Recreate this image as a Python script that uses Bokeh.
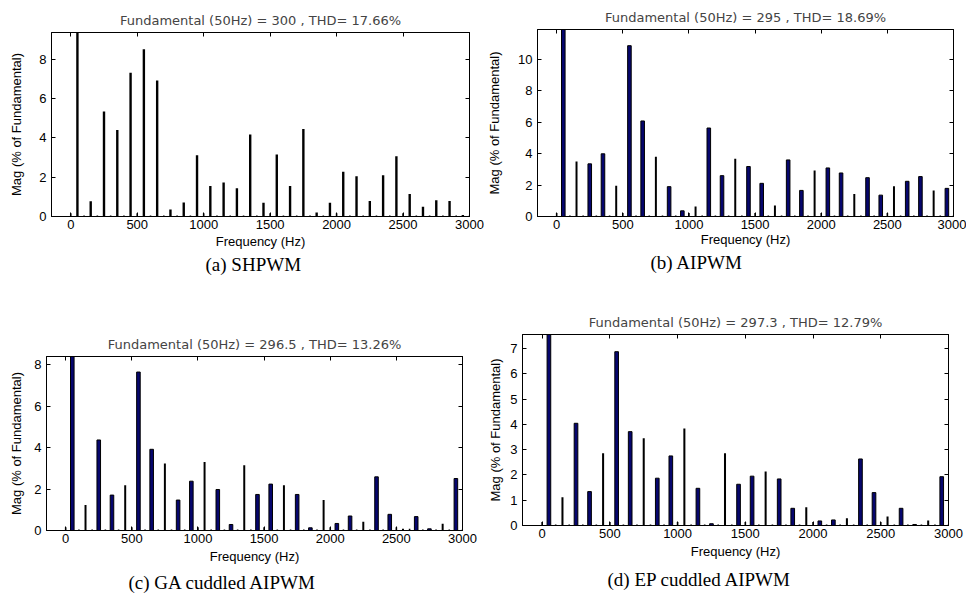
from bokeh.plotting import figure
from bokeh.layouts import row, column
from bokeh.models import Range1d, LinearAxis, FixedTicker, Title
from bokeh.embed import file_html
from bokeh.resources import INLINE

# ---------------- data ----------------
# odd harmonics (Hz) and their magnitudes (% of fundamental)
odd_hz = [50, 150, 250, 350, 450, 550, 650, 750, 850, 950,
          1050, 1150, 1250, 1350, 1450, 1550, 1650, 1750, 1850, 1950,
          2050, 2150, 2250, 2350, 2450, 2550, 2650, 2750, 2850, 2950]
# even harmonics (Hz)
even_hz = [0, 100, 200, 300, 400, 500, 600, 700, 800, 900,
           1000, 1100, 1200, 1300, 1400, 1500, 1600, 1700, 1800, 1900,
           2000, 2100, 2200, 2300, 2400, 2500, 2600, 2700, 2800, 2900, 3000]

a_odd = [100, 0.78, 5.34, 4.40, 7.31, 8.50, 6.91, 0.35, 0.71, 3.11,
         1.55, 1.73, 1.43, 4.17, 0.70, 3.15, 1.55, 4.45, 0.20, 0.70,
         2.27, 2.05, 0.79, 2.10, 3.06, 1.14, 0.50, 0.82, 0.79, 0.08]
a_even = [0.17, 0.05, 0.05, 0.05, 0.05, 0.17, 0.05, 0.05, 0.05, 0.05,
          0.17, 0.05, 0.05, 0.05, 0.05, 0.17, 0.05, 0.05, 0.05, 0.05,
          0.17, 0.05, 0.05, 0.05, 0.05, 0.17, 0.05, 0.05, 0.05, 0.05, 0.05]

b_odd = [100, 3.50, 3.35, 3.99, 1.96, 10.87, 6.08, 3.80, 1.90, 0.36,
         0.64, 5.63, 2.60, 3.67, 3.18, 2.11, 0.70, 3.60, 1.66, 2.92,
         3.09, 2.77, 1.43, 2.47, 1.36, 1.92, 2.24, 2.54, 1.66, 1.79]
b_even = [0.22, 0.06, 0.06, 0.06, 0.06, 0.22, 0.06, 0.06, 0.06, 0.06,
          0.22, 0.06, 0.06, 0.06, 0.06, 0.22, 0.06, 0.06, 0.06, 0.06,
          0.22, 0.06, 0.06, 0.06, 0.06, 0.22, 0.06, 0.06, 0.06, 0.06, 0.06]

c_odd = [100, 1.23, 4.37, 1.71, 2.19, 7.65, 3.92, 3.23, 1.47, 2.38,
         3.31, 1.98, 0.29, 3.15, 1.74, 2.24, 2.19, 1.74, 0.13, 1.47,
         0.34, 0.70, 0.42, 2.59, 0.78, 0.08, 0.67, 0.08, 0.32, 2.51]
c_even = [0.16, 0.05, 0.05, 0.05, 0.05, 0.16, 0.05, 0.05, 0.05, 0.05,
          0.16, 0.05, 0.05, 0.05, 0.05, 0.16, 0.05, 0.05, 0.05, 0.05,
          0.16, 0.05, 0.05, 0.05, 0.05, 0.16, 0.08, 0.05, 0.05, 0.05, 0.05]

d_odd = [100, 1.12, 4.04, 1.34, 2.86, 6.87, 3.71, 3.45, 1.87, 2.75,
         3.83, 1.47, 0.07, 2.86, 1.63, 1.95, 2.13, 1.84, 0.68, 0.72,
         0.18, 0.22, 0.29, 2.63, 1.30, 0.36, 0.68, 0.04, 0.20, 1.93]
d_even = [0.14, 0.04, 0.04, 0.04, 0.04, 0.14, 0.04, 0.04, 0.04, 0.04,
          0.14, 0.04, 0.04, 0.04, 0.04, 0.14, 0.04, 0.04, 0.04, 0.04,
          0.14, 0.04, 0.04, 0.04, 0.04, 0.14, 0.04, 0.04, 0.04, 0.04, 0.04]

titles = ["Fundamental (50Hz) = 300 , THD= 17.66%",
          "Fundamental (50Hz) = 295 , THD= 18.69%",
          "Fundamental (50Hz) = 296.5 , THD= 13.26%",
          "Fundamental (50Hz) = 297.3 , THD= 12.79%"]
captions = ["(a) SHPWM", "(b) AIPWM", "(c) GA cuddled AIPWM", "(d) EP cuddled AIPWM"]

x_ticks = [0, 500, 1000, 1500, 2000, 2500, 3000]
y_ticks_a = [0, 2, 4, 6, 8]
y_ticks_b = [0, 2, 4, 6, 8, 10]
y_ticks_c = [0, 2, 4, 6, 8]
y_ticks_d = [0, 1, 2, 3, 4, 5, 6, 7]
y_max = [9.35, 11.9, 8.4, 7.55]

# ---------------- styling ----------------
SANS = "Liberation Sans"
TITLE_FONT = "DejaVu Sans"
SERIF = "Liberation Serif"
NAVY = "#06066e"


def side_axis(ticks):
    return LinearAxis(ticker=FixedTicker(ticks=ticks), major_tick_in=4, major_tick_out=0,
                      minor_tick_line_color=None, major_label_text_font_size="1px",
                      major_label_overrides={t: "" for t in ticks},
                      major_label_standoff=0, axis_line_color="black",
                      major_tick_line_color="black")


def make_panel(title, caption, odd_vals, even_vals, ymax, yticks, navy, geom):
    ml, mt, fw, fh, mr, mb, cap_off, cap_stand, ylab_stand, xlab_stand = geom
    p = figure(frame_width=fw, frame_height=fh,
               min_border_left=ml, min_border_right=mr,
               min_border_top=mt, min_border_bottom=mb,
               x_range=Range1d(-145, 3000), y_range=Range1d(0, ymax),
               output_backend="svg", toolbar_location=None, title=title)
    p.frame_align = False
    p.title.align = "center"
    p.title.text_font = TITLE_FONT
    p.title.text_font_size = "13px"
    p.title.text_font_style = "normal"
    p.title.standoff = 9
    p.grid.visible = False
    p.outline_line_color = "black"
    p.outline_line_width = 1
    p.background_fill_color = "white"
    p.border_fill_color = "white"

    p.xaxis.ticker = FixedTicker(ticks=x_ticks)
    p.yaxis.ticker = FixedTicker(ticks=yticks)
    p.xaxis.axis_label = "Frequency (Hz)"
    p.yaxis.axis_label = "Mag (% of Fundamental)"
    for ax in p.xaxis + p.yaxis:
        ax.major_tick_in = 4
        ax.major_tick_out = 0
        ax.minor_tick_line_color = None
        ax.axis_line_color = "black"
        ax.major_tick_line_color = "black"
        ax.major_label_text_font = SANS
        ax.major_label_text_font_size = "13px"
        ax.major_label_text_color = "black"
        ax.axis_label_text_font = SANS
        ax.axis_label_text_font_size = "13px"
        ax.axis_label_text_font_style = "normal"
        ax.axis_label_text_color = "black"
    p.xaxis.major_label_standoff = 3
    p.xaxis.axis_label_standoff = xlab_stand
    p.yaxis.major_label_standoff = 5
    p.yaxis.axis_label_standoff = ylab_stand

    p.add_layout(side_axis(x_ticks), "above")
    p.add_layout(side_axis(yticks), "right")

    # even harmonics: thin black marks
    p.vbar(x=even_hz, top=even_vals, width=12, bottom=0,
           fill_color="black", line_color=None)
    if navy:
        wide_x = [f for f in odd_hz if (f // 50) % 3 != 0]
        wide_v = [v for f, v in zip(odd_hz, odd_vals) if (f // 50) % 3 != 0]
        thin_x = [f for f in odd_hz if (f // 50) % 3 == 0]
        thin_v = [v for f, v in zip(odd_hz, odd_vals) if (f // 50) % 3 == 0]
        p.vbar(x=thin_x, top=thin_v, width=15, bottom=0,
               fill_color="black", line_color=None)
        p.vbar(x=wide_x, top=wide_v, width=27, bottom=0,
               fill_color=NAVY, line_color="black", line_width=1)
    else:
        p.vbar(x=odd_hz, top=odd_vals, width=18, bottom=0,
               fill_color="black", line_color=None)

    cap = Title(text=caption, align="left", offset=cap_off,
                text_font=SERIF, text_font_size="19px",
                text_font_style="normal", text_color="black", standoff=cap_stand)
    p.add_layout(cap, "below")
    return p


#                       ml  mt   fw   fh  mr  mb  cap_off cap_st ylab_st xlab_st
pa = make_panel(titles[0], captions[0], a_odd, a_even, y_max[0], y_ticks_a, False,
                (51, 32, 418, 184, 15, 82, 154, 0, 12, 2))
pb = make_panel(titles[1], captions[1], b_odd, b_even, y_max[1], y_ticks_b, True,
                (53, 29, 416, 187, 13, 82, 113, 0, 13, 0))
pc = make_panel(titles[2], captions[2], c_odd, c_even, y_max[2], y_ticks_c, True,
                (46, 58, 416, 174, 22, 71, 82, 7, 7, 3))
pd = make_panel(titles[3], captions[3], d_odd, d_even, y_max[3], y_ticks_d, True,
                (38, 36, 426, 191, 18, 76, 85, 11, 4, 3))

layout = column(row(pa, pb), row(pc, pd))

with open("out.html", "w") as fh:
    fh.write(file_html(layout, INLINE))
